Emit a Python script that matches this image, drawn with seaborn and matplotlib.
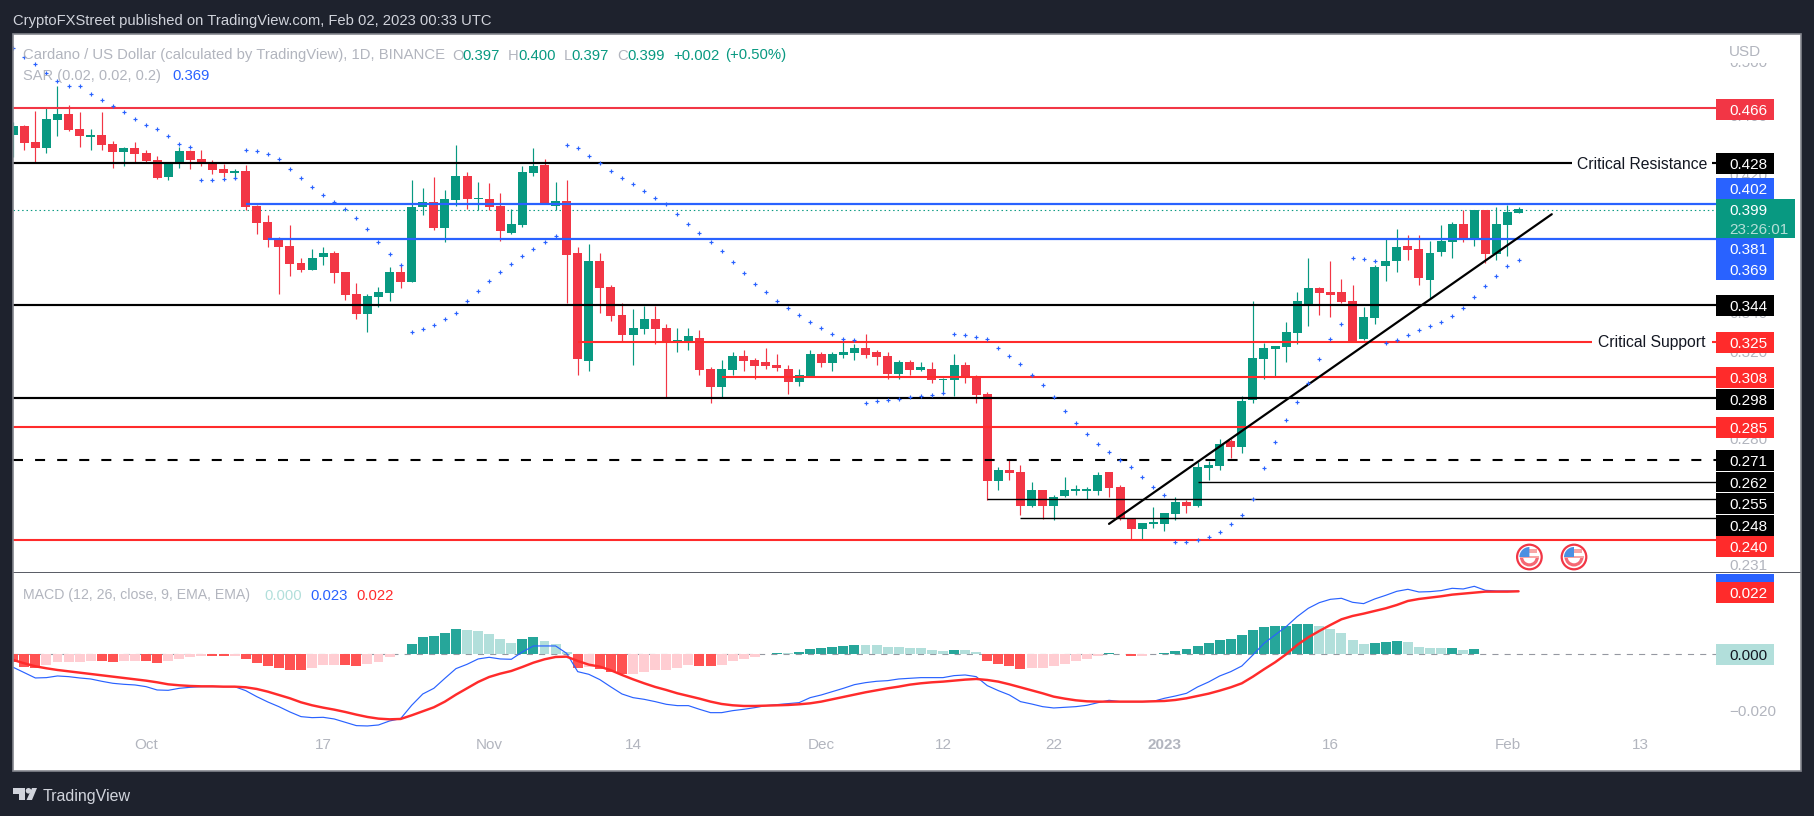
import matplotlib
matplotlib.use("Agg")
import matplotlib.pyplot as plt
import matplotlib.dates as mdates
import matplotlib.ticker as mticker
from matplotlib.patches import Rectangle, Circle, Polygon, Wedge
from matplotlib.transforms import Affine2D
import numpy as np
import pandas as pd
import seaborn as sns

start_date = "2022-09-19"
opens = [.4476,.4538,.4428,.4387,.4580,.4623,.4517,.4462,.4476,.4414,
.4361,.4387,.4354,.4307,.4197,.4294,.4367,.4314,.4287,.4249,
.4222,.4236,.4013,.3916,.3815,.3775,.3677,.3638,.3711,.3734,
.3627,.3506,.3400,.3489,.3511,.3627,.3571,.4007,.4038,.3880,
.4050,.4203,.4056,.4056,.4013,.3850,.3898,.4222,.4275,.4013,
.4044,.3734,.3163,.3688,.3544,.3394,.3292,.3322,.3373,.3327,
.3256,.3256,.3276,.3125,.3039,.3120,.3188,.3168,.3158,.3144,
.3125,.3063,.3091,.3197,.3154,.3193,.3202,.3227,.3207,.3188,
.3101,.3158,.3120,.3125,.3072,.3072,.3144,.3086,.3007,.2630,
.2675,.2667,.2532,.2595,.2532,.2571,.2591,.2591,.2591,.2667,
.2606,.2481,.2443,.2462,.2462,.2500,.2547,.2532,.2684,.2692,
.2797,.2772,.2979,.3173,.3222,.3232,.3302,.3452,.3538,.3517,
.3517,.3468,.3271,.3378,.3660,.3688,.3775,.3757,.3582,.3740,
.3797,.3904,.3821,.3989,.3729,.3898,.3971]
highs = [.4566,.4545,.4644,.4673,.4824,.4687,.4637,.4517,.4637,.4434,
.4394,.4428,.4374,.4334,.4287,.4394,.4374,.4374,.4307,.4281,
.4249,.4275,.4019,.3959,.3827,.3898,.3706,.3757,.3769,.3746,
.3627,.3566,.3506,.3544,.3655,.3666,.4177,.4126,.4197,.4113,
.4408,.4229,.4164,.4158,.4095,.3995,.4268,.4387,.4314,.4164,
.4177,.3769,.3786,.3734,.3555,.3457,.3426,.3442,.3442,.3348,
.3327,.3327,.3317,.3134,.3168,.3207,.3217,.3178,.3227,.3197,
.3144,.3125,.3217,.3207,.3207,.3266,.3246,.3297,.3217,.3207,
.3168,.3168,.3158,.3158,.3082,.3197,.3158,.3096,.3016,.2688,
.2717,.2696,.2626,.2595,.2575,.2646,.2614,.2606,.2667,.2667,
.2614,.2481,.2466,.2528,.2504,.2567,.2555,.2709,.2713,.2805,
.2805,.2998,.3468,.3251,.3237,.3358,.3517,.3706,.3544,.3688,
.3588,.3555,.3436,.3666,.3815,.3874,.3839,.3839,.3803,.3898,
.3916,.3989,.3989,.3989,.4007,.4019,.4007]
lows = [.4327,.4374,.4287,.4354,.4469,.4504,.4394,.4374,.4374,.4255,
.4268,.4287,.4287,.4184,.4177,.4255,.4249,.4268,.4216,.4197,
.4184,.3989,.3845,.3769,.3506,.3604,.3627,.3638,.3666,.3566,
.3473,.3373,.3307,.3436,.3468,.3538,.3571,.3959,.3868,.3797,
.4013,.3995,.3989,.3989,.3803,.3845,.3886,.4203,.4026,.3989,
.3457,.3096,.3115,.3405,.3363,.3261,.3144,.3297,.3246,.2993,
.3207,.3217,.3096,.2966,.2993,.3096,.3115,.3077,.3125,.3115,
.3007,.3044,.3086,.3134,.3115,.3178,.3168,.3178,.3144,.3077,
.3077,.3096,.3115,.3058,.3007,.2998,.3058,.2966,.2555,.2595,
.2634,.2497,.2528,.2481,.2477,.2567,.2575,.2559,.2575,.2567,
.2477,.2406,.2402,.2447,.2436,.2477,.2504,.2528,.2634,.2675,
.2725,.2746,.2966,.3077,.3091,.3158,.3246,.3337,.3394,.3384,
.3457,.3256,.3266,.3348,.3577,.3627,.3694,.3555,.3484,.3717,
.3706,.3797,.3775,.3677,.3694,.3717,.3971]
closes = [.4538,.4421,.4387,.4587,.4623,.4511,.4469,.4476,.4408,.4361,
.4387,.4347,.4301,.4190,.4281,.4367,.4307,.4287,.4242,.4222,
.4236,.4007,.3910,.3809,.3769,.3672,.3638,.3706,.3734,.3621,
.3500,.3400,.3495,.3517,.3627,.3571,.4007,.4038,.3880,.4056,
.4203,.4056,.4063,.4007,.3862,.3904,.4229,.4268,.4032,.4044,
.3723,.3173,.3688,.3538,.3389,.3292,.3327,.3373,.3322,.3256,
.3266,.3286,.3120,.3039,.3125,.3188,.3163,.3139,.3139,.3130,
.3063,.3096,.3197,.3154,.3197,.3207,.3227,.3193,.3183,.3101,
.3158,.3120,.3134,.3072,.3077,.3144,.3086,.3002,.2630,.2675,
.2663,.2532,.2595,.2532,.2567,.2595,.2595,.2595,.2655,.2602,
.2481,.2443,.2466,.2466,.2504,.2547,.2532,.2688,.2696,.2784,
.2772,.2975,.3178,.3227,.3237,.3307,.3468,.3538,.3511,.3500,
.3462,.3256,.3384,.3655,.3688,.3769,.3752,.3593,.3734,.3803,
.3904,.3821,.3989,.3729,.3904,.3977,.3995]
sar = [.5115,.5045,.4991,.4923,.4863,.4824,.4824,.4766,.4723,.4680,
.4637,.4587,.4545,.4517,.4469,.4414,.4394,.4177,.4177,.4184,
.4190,.4374,.4367,.4347,.4314,.4249,.4190,.4133,.4082,.4038,
.3995,.3940,.3874,.3797,.3729,.3666,.3307,.3322,.3342,.3373,
.3405,.3468,.3522,.3577,.3627,.3672,.3717,.3757,.3797,.3833,
.4408,.4387,.4334,.4287,.4236,.4190,.4152,.4107,.4063,.4026,
.3965,.3904,.3850,.3797,.3746,.3683,.3621,.3560,.3517,.3468,
.3431,.3394,.3358,.3327,.3297,.3271,.3266,.2966,.2975,.2979,
.2984,.2993,.2998,.3002,.3011,.3297,.3292,.3281,.3271,.3227,
.3188,.3149,.3096,.3049,.2993,.2930,.2876,.2827,.2784,.2750,
.2717,.2688,.2646,.2606,.2575,.2395,.2395,.2402,.2413,.2432,
.2462,.2497,.2559,.2684,.2793,.2889,.2970,.3058,.3173,.3271,
.3348,.3706,.3700,.3688,.3251,.3266,.3292,.3317,.3337,.3358,
.3389,.3431,.3489,.3549,.3604,.3660,.3694]
# MACD pane values, in thousandths
hist = [-2.60,-4.37,-4.73,-3.78,-2.72,-2.70,-2.67,-2.25,-2.36,-2.72,
-2.36,-2.25,-2.36,-3.07,-2.36,-1.65,-0.95,-0.59,-0.65,-0.71,
-0.47,-1.65,-3.07,-4.14,-4.85,-5.56,-5.61,-4.85,-3.78,-3.66,
-3.84,-4.14,-3.43,-2.72,-0.95,0.12,3.66,6.15,6.50,7.57,
8.98,8.63,8.27,7.21,5.44,4.02,5.44,6.15,4.73,3.66,
0.83,-4.85,-4.49,-5.20,-6.26,-6.97,-6.95,-6.26,-5.56,-5.50,
-4.85,-3.78,-4.14,-4.20,-3.78,-2.36,-1.65,-0.95,0.24,0.47,
0.41,0.83,1.89,2.25,2.60,2.96,3.31,3.31,3.30,2.60,
2.59,2.25,2.24,1.54,1.18,1.54,1.51,0.83,-2.36,-3.43,
-4.14,-5.20,-4.85,-4.82,-4.14,-3.43,-2.36,-1.65,-0.59,0.47,
0.12,-0.59,-0.47,0.12,0.47,1.18,1.89,2.96,4.02,5.08,
5.44,6.86,8.63,9.69,10.05,10.06,10.76,10.77,10.05,8.98,
7.57,5.08,3.66,4.02,4.37,4.73,4.37,2.60,2.25,2.22,
2.25,1.54,1.89,0.12,0.10,0.13,0.02]
macd = [-4.61,-6.50,-8.39,-8.27,-7.68,-7.92,-8.39,-8.75,-9.57,-10.28,
-10.64,-10.87,-11.47,-12.65,-12.77,-12.06,-11.70,-11.47,-11.47,-11.47,
-11.47,-12.88,-15.01,-16.90,-18.56,-20.45,-22.10,-22.46,-22.34,-22.93,
-24.11,-25.29,-25.41,-25.06,-23.64,-22.81,-18.08,-14.07,-12.06,-8.51,
-5.08,-3.55,-1.65,-1.06,-1.65,-1.77,0.83,2.96,2.96,2.96,
0.35,-6.15,-7.09,-8.98,-11.58,-14.07,-15.37,-15.96,-16.78,-17.73,
-18.20,-18.20,-19.50,-20.69,-20.69,-19.98,-19.50,-18.91,-18.20,-17.85,
-17.49,-17.14,-15.37,-14.42,-13.24,-12.06,-10.76,-10.05,-9.57,-9.34,
-8.75,-8.51,-8.27,-8.27,-8.27,-7.56,-7.33,-7.92,-11.11,-12.88,
-14.42,-16.78,-17.61,-18.56,-19.03,-18.79,-18.56,-18.08,-17.14,-16.31,
-16.78,-16.78,-16.78,-16.67,-15.60,-14.78,-13.83,-11.58,-9.81,-7.68,
-6.15,-4.14,-0.24,3.90,6.86,9.81,13.36,16.31,18.32,19.50,
19.86,18.44,17.97,19.62,20.92,22.34,23.05,22.10,22.22,22.58,
23.40,23.17,24.11,22.69,22.46,22.46,22.34]
signal = [-2.01,-3.19,-4.26,-4.96,-5.56,-6.03,-6.50,-6.97,-7.45,-7.92,
-8.39,-8.87,-9.34,-9.93,-10.64,-10.99,-11.23,-11.35,-11.35,-11.47,
-11.47,-11.70,-12.29,-13.24,-14.42,-15.60,-17.02,-18.08,-18.91,-19.62,
-20.45,-21.39,-22.22,-22.81,-23.05,-22.93,-21.63,-20.21,-18.79,-16.78,
-14.30,-12.06,-9.81,-8.04,-6.86,-5.91,-4.49,-2.96,-1.77,-0.95,
-0.83,-2.36,-3.66,-4.37,-5.67,-7.33,-8.87,-10.28,-11.58,-12.65,
-13.83,-14.78,-15.72,-16.78,-17.61,-18.08,-18.32,-18.32,-18.20,-18.08,
-17.97,-17.73,-17.38,-16.78,-15.96,-15.13,-14.30,-13.47,-12.77,-12.06,
-11.47,-10.76,-10.28,-9.93,-9.69,-9.34,-8.98,-8.75,-9.10,-9.69,
-10.64,-11.70,-12.77,-13.83,-15.01,-15.72,-16.31,-16.67,-16.78,-16.78,
-16.78,-16.78,-16.78,-16.67,-16.55,-16.19,-15.60,-14.78,-13.95,-12.88,
-11.70,-10.28,-7.92,-5.32,-2.84,0.00,3.31,6.03,8.27,10.40,
12.41,13.59,14.42,15.37,16.31,17.49,18.91,19.62,20.09,20.57,
21.16,21.51,21.87,22.22,22.22,22.22,22.34]

# horizontal levels as drawn (the labels show them rounded)
level_466, level_428, level_402, level_381 = .4665, .4287, .4027, .3817
level_344, level_325, level_308, level_298 = .3447, .3258, .3088, .2990
level_285, level_271, level_262, level_255 = .2859, .2717, .2625, .2558
level_248, level_240 = .2484, .2402
close_last = .3990
trend_prices = [.2463, .3963]
price_ticks = ["0.500","0.460","0.420","0.340","0.320","0.280"]
price_tick_values = [.50,.46,.42,.34,.32,.28]
date_ticks = ["2022-10-01","2022-10-17","2022-11-01","2022-11-14","2022-12-01","2022-12-12",
              "2022-12-22","2023-01-01","2023-01-16","2023-02-01","2023-02-13"]
date_tick_labels = ["Oct","17","Nov","14","Dec","12","22","2023","16","Feb","13"]

W, H = 1814, 816
BG = "#1e222d"; GREEN = "#089981"; RED = "#f23645"; RED2 = "#ff2b2b"; BLUE = "#2962ff"
GREY = "#b2b5be"; LIGHT = "#d1d4dc"

sns.set_theme(style="white")
plt.rcParams["font.family"] = ["Liberation Sans", "DejaVu Sans"]

fig = plt.figure(figsize=(W/100, H/100), dpi=100, facecolor=BG)
T = Affine2D().scale(1, -1).translate(0, H)   # pixels from the top-left corner
L, R, TOP, SEP, BOT = 13, 1801, 34, 573, 771

def axes_at(x0, y0, x1, y1):
    return fig.add_axes([x0/W, 1-y1/H, (x1-x0)/W, (y1-y0)/H])

ax = axes_at(L, TOP, R, SEP)
am = axes_at(L, SEP, R, BOT)
dates = mdates.date2num(pd.date_range(start_date, periods=len(opens)))
step = 11.07
xlim = (dates[0] - 0.02, dates[0] + (R - L)/step)
x_end = dates[0] + (1716 - 13.2)/step

o, h, l, c = map(np.array, (opens, highs, lows, closes))
up = c >= o
cols = [GREEN if u else RED for u in up]

# price pane
ax.set_yscale("log")
ax.set_xlim(*xlim)
ax.set_ylim(.2284, .5227)
ax.vlines(dates, l, h, colors=cols, linewidth=0.85, zorder=2)
ax.bar(dates, np.abs(c-o).clip(min=.0007), bottom=np.minimum(o, c), width=0.81, color=cols, linewidth=0, zorder=2.1)
sns.scatterplot(x=dates, y=sar, marker="+", s=11, color=BLUE, linewidth=0.85, ax=ax, zorder=4, legend=False)

ax.hlines(close_last, xlim[0], x_end, colors=GREEN, linewidth=0.8, linestyles=(0, (1.3, 2.6)), zorder=1.5)
ax.hlines(level_466, xlim[0], x_end, colors=RED, linewidth=1.5, zorder=3)
ax.hlines(level_285, xlim[0], x_end, colors=RED2, linewidth=1.5, zorder=3)
ax.hlines(level_240, xlim[0], x_end, colors=RED2, linewidth=1.5, zorder=3)
ax.hlines(level_325, dates[51], x_end, colors=RED2, linewidth=1.5, zorder=3)
ax.hlines(level_308, dates[64], x_end, colors=RED2, linewidth=1.5, zorder=3)
ax.hlines([level_428, level_344, level_298], xlim[0], x_end, colors="black", linewidth=1.55, zorder=3)
ax.hlines(level_402, dates[21], x_end, colors=BLUE, linewidth=1.6, zorder=3)
ax.hlines(level_381, dates[23], x_end, colors=BLUE, linewidth=1.6, zorder=3)
ax.hlines(level_271, xlim[0], x_end, colors="black", linewidth=1.5, linestyles=(0, (4.8, 5.8)), zorder=3)
ax.hlines(level_262, dates[107], x_end, colors="black", linewidth=1.0, zorder=3)
ax.hlines(level_255, dates[88], x_end, colors="black", linewidth=1.0, zorder=3)
ax.hlines(level_248, dates[91], x_end, colors="black", linewidth=1.0, zorder=3)
trend_x = [dates[0] + 99, dates[0] + 139]
sns.lineplot(x=trend_x, y=trend_prices, color="black", linewidth=1.6, ax=ax, zorder=3.5, legend=False)
ax.set_xticks([]); ax.set_yticks([])
ax.yaxis.set_minor_locator(mticker.NullLocator())
ax.set_xlabel(""); ax.set_ylabel("")
for s in ax.spines.values():
    s.set_visible(False)
ax.spines["bottom"].set_visible(True); ax.spines["bottom"].set_color("#2a2e39"); ax.spines["bottom"].set_linewidth(1.1)
ax.set_facecolor("white")

# faint price-scale ticks, partly hidden by the boxes as in the chart
ytr = ax.get_yaxis_transform()
for v, s in zip(price_tick_values, price_ticks):
    ax.text((1729-L)/(R-L), v, s, transform=ytr, color=GREY, fontsize=11, ha="left", va="center", zorder=1, clip_on=False)

# MACD pane
am.set_xlim(*xlim)
am.set_ylim(-41.38, 28.83)
prev = [hist[0] + 1] + hist[:-1]
hcols = []
for v, p in zip(hist, prev):
    if v >= 0:
        hcols.append("#26a69a" if v > p else "#b2dfdb")
    else:
        hcols.append("#ffcdd2" if v > p else "#ff5252")
am.hlines(0, xlim[0], x_end, colors="#9598a1", linewidth=0.8, linestyles=(0, (5.5, 5.5)), zorder=1)
am.bar(dates, hist, width=0.9, color=hcols, linewidth=0, zorder=2)
sns.lineplot(x=dates, y=macd, color=BLUE, linewidth=0.85, ax=am, zorder=3, legend=False)
sns.lineplot(x=dates, y=signal, color=RED2, linewidth=1.75, ax=am, zorder=3.5, legend=False)
am.set_yticks([])
am.set_xlabel(""); am.set_ylabel("")
am.set_xticks(mdates.date2num(pd.to_datetime(date_ticks)))
am.set_xticklabels(date_tick_labels, color=GREY, fontsize=11)
am.tick_params(axis="x", length=0, pad=-24)
am.get_xticklabels()[7].set_fontweight("bold")
for s in am.spines.values():
    s.set_visible(False)
am.set_facecolor("white")

# frame
fig.add_artist(Rectangle((L, TOP), R-L, BOT-TOP, transform=T, fill=False, edgecolor="#84868e", linewidth=1.2, zorder=4))

def txt(x, y, s, color=GREY, size=11, ha="left", **kw):
    fig.text(x, y, s, transform=T, color=color, fontsize=size, ha=ha, va="center_baseline", zorder=7, **kw)

def box(x0, y0, x1, y1, color):
    fig.add_artist(Rectangle((x0, y0), x1-x0, y1-y0, transform=T, facecolor=color, edgecolor="none", zorder=5))

# mask above the clipped 0.500 tick, then the currency
box(1720, 36, 1790, 62.5, "white")
txt(1729, 50.5, "USD")

# price labels
labels = [("0.466", 109.5, RED), ("0.428", 163.5, "black"), ("0.344", 305.3, "black"), ("0.325", 342.5, RED2),
          ("0.308", 377.3, RED2), ("0.298", 399.5, "black"), ("0.285", 427.5, RED2), ("0.271", 460.5, "black"),
          ("0.262", 482, "black"), ("0.255", 503.5, "black"), ("0.248", 525.5, "black"), ("0.240", 546.5, RED2),
          ("0.402", 188.5, BLUE), ("0.381", 248.5, BLUE), ("0.369", 269.2, BLUE)]
for s, yc, col in labels:
    box(1716, yc-10.3, 1774, yc+10.3, col)
    txt(1729, yc, s, "white")
box(1716, 199.3, 1795, 237.7, GREEN)
txt(1729, 209.5, "0.399", "white")
txt(1729, 228, "23:26:01", "#b5dfd8")
txt(1729, 565, "0.231")
box(1716, 574, 1774, 582, BLUE)
box(1716, 582, 1774, 602.7, RED2)
txt(1729, 592.5, "0.022", "white")
box(1716, 644, 1774, 665, "#b2dfdb")
txt(1729, 654.5, "0.000", "#131722")
txt(1729, 710.7, "\u22120.020")

# drawing notes
box(1572, 150, 1712, 176, "white")
txt(1642.6, 163, "Critical Resistance", "#131722", ha="center", size=11.3)
box(1592, 330, 1712, 354, "white")
txt(1652, 341, "Critical Support", "#131722", ha="center", size=11.3)

# legends
txt(23, 54, "Cardano / US Dollar (calculated by TradingView), 1D, BINANCE", size=10.7)
for x, s, col in [(452, "O", GREY), (462, "0.397", GREEN), (508, "H", GREY), (518, "0.400", GREEN),
                  (564, "L", GREY), (571, "0.397", GREEN), (617, "C", GREY), (627, "0.399", GREEN),
                  (673, "+0.002", GREEN), (725, "(+0.50%)", GREEN)]:
    txt(x, 54, s, col, size=10.7)
txt(23, 74.7, "SAR (0.02, 0.02, 0.2)", size=10.5)
txt(172, 74.7, "0.369", BLUE, size=10.7)
txt(23, 594, "MACD (12, 26, close, 9, EMA, EMA)", size=10.2)
txt(264, 594, "0.000", "#b2dfdb", size=10.7)
txt(310, 594, "0.023", BLUE, size=10.7)
txt(356, 594, "0.022", RED2, size=10.7)

# header and footer
txt(13, 20, "CryptoFXStreet published on TradingView.com, Feb 02, 2023 00:33 UTC", LIGHT, size=10.65)
txt(42.3, 794.7, "TradingView", LIGHT, size=11.5)
for pts in ([(13,788),(25,788),(25,800),(19,800),(19,794),(13,794)], [(32,788),(37,788),(32,800),(26.5,800)]):
    fig.add_artist(Polygon(pts, closed=True, transform=T, facecolor=LIGHT, edgecolor="none", zorder=6))
fig.add_artist(Circle((28.5, 790.8), 2.8, transform=T, facecolor=LIGHT, edgecolor="none", zorder=6))

# event flags
for fx in (1529.4, 1574):
    fy = 557
    fig.add_artist(Circle((fx, fy), 12.3, transform=T, facecolor="white", edgecolor=RED, linewidth=1.6, zorder=6))
    fig.add_artist(Wedge((fx, fy), 9.5, 0, 180, transform=T, facecolor=RED, edgecolor="none", alpha=.75, zorder=6.1, width=3.2))
    fig.add_artist(Rectangle((fx-9.5, fy-0.8), 19, 1.6, transform=T, facecolor="#f7a5a5", edgecolor="none", zorder=6.1))
    fig.add_artist(Wedge((fx, fy), 10, 180, 270, transform=T, facecolor="#4a90e2", edgecolor="none", zorder=6.2))
    fig.add_artist(Rectangle((fx-2, fy-8), 9.5, 4, transform=T, facecolor="#f7a5a5", edgecolor="none", zorder=6.1))

fig.savefig("out.png", dpi=100, facecolor=BG)
